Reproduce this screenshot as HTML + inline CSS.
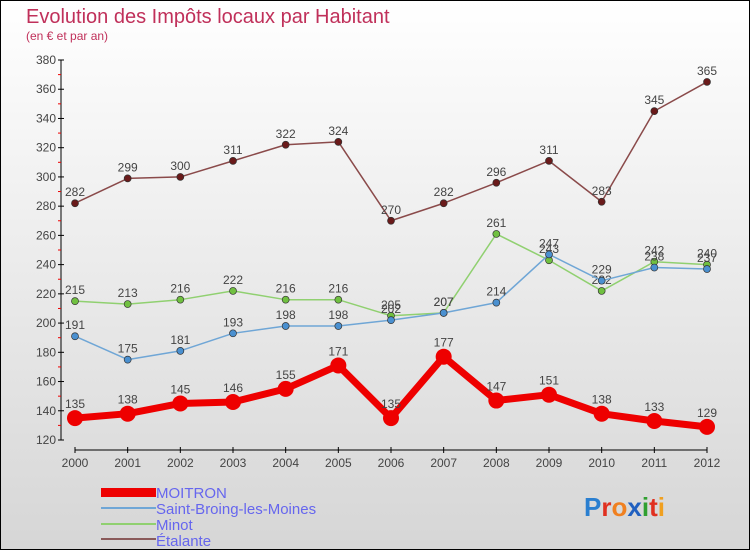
<!DOCTYPE html>
<html><head><meta charset="utf-8"><style>
html,body{margin:0;padding:0}
body{width:750px;height:550px;overflow:hidden;font-family:"Liberation Sans",sans-serif}
#wrap{position:relative;width:748px;height:548px;border:1px solid #000;background:linear-gradient(#ffffff,#d6d6d6)}
</style></head><body>
<div id="wrap">
<svg id="chart" width="748" height="548">
<text x="25" y="22" font-size="20" fill="#c0305a">Evolution des Impôts locaux par Habitant</text>
<text x="25" y="39" font-size="12" fill="#c0305a">(en € et par an)</text>
<g id="axes"></g><g id="series"></g>
<g>
<rect x="100" y="487" width="55" height="9" fill="#e00"/>
<text x="155" y="497" font-size="15" fill="#6666ee">MOITRON</text>
<rect x="100" y="506" width="55" height="2" fill="#6fa6d6"/>
<text x="155" y="513" font-size="15" fill="#6666ee">Saint-Broing-les-Moines</text>
<rect x="100" y="522" width="55" height="2" fill="#90d070"/>
<text x="155" y="529" font-size="15" fill="#6666ee">Minot</text>
<rect x="100" y="537" width="55" height="2" fill="#8a5a5a"/>
<text x="155" y="545" font-size="15" fill="#6666ee">Étalante</text>
</g>
<text x="583" y="515" font-size="26" font-weight="bold"><tspan fill="#2a7fd0">P</tspan><tspan fill="#e03020">r</tspan><tspan fill="#f08020">o</tspan><tspan fill="#2060c0">x</tspan><tspan fill="#30a030">i</tspan><tspan fill="#e03020">t</tspan><tspan fill="#f0a020">i</tspan></text>
</svg>
</div>
<script>
const years=[2000,2001,2002,2003,2004,2005,2006,2007,2008,2009,2010,2011,2012];
const yTicks=[120,140,160,180,200,220,240,260,280,300,320,340,360,380];
const moitron=[135,138,145,146,155,171,135,177,147,151,138,133,129];
const saintBroing=[191,175,181,193,198,198,202,207,214,247,229,238,237];
const minot=[215,213,216,222,216,216,205,207,261,243,222,242,240];
const etalante=[282,299,300,311,322,324,270,282,296,311,283,345,365];
const NS="http://www.w3.org/2000/svg";
function xs(i){return 74+i*(632/12);}
function ys(v){return 59+(380-v)*(380/260);}
function mk(t,a,p){const e=document.createElementNS(NS,t);for(const k in a)e.setAttribute(k,a[k]);p.appendChild(e);return e;}
const ax=document.getElementById('axes');
const yl=mk('line',{x1:60,y1:59,x2:60,y2:439,stroke:'#000'},ax);


yTicks.forEach(v=>{
 mk('line',{x1:57,x2:63,y1:ys(v),y2:ys(v),stroke:'#000'},ax);
 if(v<380) mk('line',{x1:57,x2:60,y1:ys(v+10),y2:ys(v+10),stroke:'#e00'},ax);
 const t=mk('text',{x:55,y:ys(v)+4,'text-anchor':'end','font-size':12,fill:'#444'},ax);t.textContent=v;
 
 
});
const xl=mk('line',{x1:74,y1:449,x2:706,y2:449,stroke:'#000'},ax);


years.forEach((y,i)=>{
 mk('line',{x1:xs(i),x2:xs(i),y1:446,y2:452,stroke:'#000'},ax);
 const t=mk('text',{x:xs(i),y:466,'text-anchor':'middle','font-size':12,fill:'#444'},ax);t.textContent=y;
 
 
});
const sg=document.getElementById('series');
function draw(vals,color,dot,w,r,name){
 const g=mk('g',{},sg);
 
 
 mk('polyline',{points:vals.map((v,i)=>xs(i)+','+ys(v)).join(' '),fill:'none',stroke:color,'stroke-width':w,'stroke-linejoin':'round'},g);
 vals.forEach((v,i)=>{
  const c=mk('circle',{cx:xs(i),cy:ys(v),r:r,fill:dot,stroke:'#333','stroke-width':r>5?0:0.7},g);
  
  
  const t=mk('text',{x:xs(i),y:ys(v)-(r>5?10:7),'text-anchor':'middle','font-size':12,fill:'#444'},g);t.textContent=v;
  
  
 });
}
draw(etalante,'#8a4a4a','#6a1a1a',1.5,3.5,'etalante');
draw(minot,'#90d070','#70c040',1.5,3.5,'minot');
draw(saintBroing,'#6fa6d6','#4a90d0',1.5,3.5,'saint-broing');
draw(moitron,'#ee0000','#ee0000',7,8,'moitron');
</script>
</body></html>
